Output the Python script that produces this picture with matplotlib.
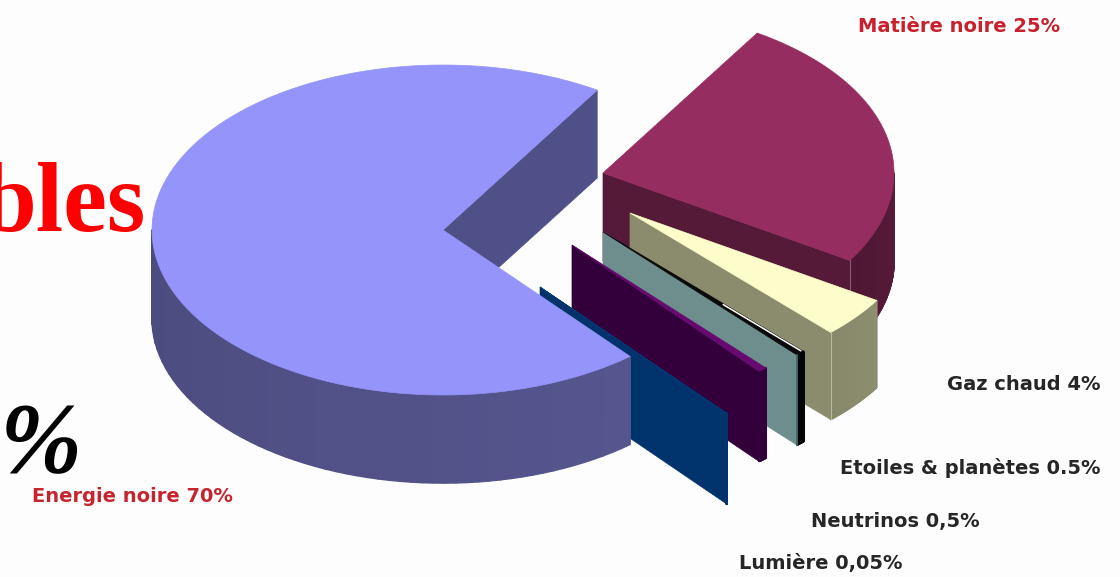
import numpy as np
import matplotlib
matplotlib.use("Agg")
import matplotlib.pyplot as plt
from matplotlib.collections import PolyCollection
from matplotlib.colors import to_rgb

# ---- data
labels = ["Energie noire 70%", "Matière noire 25%", "Gaz chaud 4%",
          "Etoiles & planètes 0.5%", "Neutrinos 0,5%", "Lumière 0,05%"]
values = [70, 25, 4, 0.5, 0.5, 0.05]

# ---- styles and layout (pixels, y downward)
top_colors = ["#9494FA", "#962D60", "#FDFDCB", "#0A0A0A", "#660A70", "#003A78"]
face_colors = ["#4F5088", "#551A38", "#8B8B6E", "#6E8E8E", "#33003C", "#00336B"]
arc_colors = [("#4B4B7E", "#56568F"), ("#4E1733", "#581B3A"), ("#88886C", "#8D8D70"),
              ("#050505", "#050505"), ("#2E0036", "#33003C"), ("#00336B", "#00336B")]
apexes = [(443, 230), (603, 173), (630, 213), (603, 232), (572, 245), (540, 287)]
RX, RY = 291, 165
DEPTHS = [88, 88, 87, 90, 90, 90]
START = 58.0
label_pos = [(132, 497, "#C5252E"), (959, 26, "#C8202C"), (1024, 385, "#262626"),
             (970, 468, "#262626"), (895, 521, "#262626"), (821, 563, "#262626")]
BG = "#FDFDFD"


def point(apex, deg):
    a = np.radians(deg)
    return apex[0] + RX * np.cos(a), apex[1] - RY * np.sin(a)


def arc(apex, a0, a1, n=120):
    return [point(apex, d) for d in np.linspace(a0, a1, n)]


fig = plt.figure(figsize=(11.2, 5.77), dpi=100, facecolor=BG)
ax = fig.add_axes([0, 0, 1, 1])
ax.set_xlim(0, 1120)
ax.set_ylim(577, 0)
ax.axis("off")

sweeps = np.array(values) / 100 * 360
bounds = [(START, START + sweeps[0])]
prev = START
for s in sweeps[1:]:
    bounds.append((prev - s, prev))
    prev -= s

# Energy is painted last so that it covers the light slice
order = [1, 2, 3, 4, 5, 0]
for i in order:
    apex, depth = apexes[i], DEPTHS[i]
    lo, hi = bounds[i]
    z = 2 + order.index(i)

    # outer wall, only the part that faces the viewer
    if i == 0:
        w0, w1 = 180.0, hi
    else:
        w0, w1 = lo, min(hi, 0.0)
    if w1 > w0:
        steps = np.linspace(w0, w1, 60)
        quads, cols = [], []
        c0, c1 = map(np.array, map(to_rgb, arc_colors[i]))
        for k in range(len(steps) - 1):
            p, q = point(apex, steps[k]), point(apex, steps[k + 1])
            quads.append([p, q, (q[0], q[1] + depth), (p[0], p[1] + depth)])
            cols.append(c0 + (c1 - c0) * k / (len(steps) - 2))
        ax.add_collection(PolyCollection(quads, facecolors=cols, edgecolors=cols,
                                         linewidths=1.2, zorder=z))

    # visible cut face
    e = point(apex, lo)
    f = [apex, e, (e[0], e[1] + depth), (apex[0], apex[1] + depth)]
    ax.fill(*zip(*f), color=face_colors[i], lw=0.5, zorder=z)

    # top face
    t = [apex] + arc(apex, lo, hi)
    ax.fill(*zip(*t), color=top_colors[i], lw=0.5, zorder=z + 0.5)

    # bright edge highlights
    if i in (1, 2):
        ax.plot([e[0], e[0]], [e[1], e[1] + depth], color="#B9B9A0" if i == 2 else "#8A5A75",
                lw=0.8, zorder=z + 0.6)
    if i == 3:
        r = np.array(point(apex, hi))
        a = np.array(apex)
        s0, s1 = a + 0.60 * (r - a), a + 0.985 * (r - a)
        ax.plot([s0[0], s1[0]], [s0[1] + 1, s1[1] + 1], color="white", lw=1.1, zorder=z + 0.6)
        ax.plot([e[0], e[0]], [e[1], e[1] + depth], color="#3F6A6E", lw=1.2, zorder=z + 0.6)

# labels
for name, (x, y, col) in zip(labels, label_pos):
    ax.text(x, y, name, color=col, ha="center", va="center", fontsize=14,
            fontweight="bold", family="DejaVu Sans", zorder=20)

# fragments of the larger slide title
ax.text(146, 231, "bles", color="#FF0000", ha="right", va="baseline", fontsize=71,
        fontweight="bold", family="Liberation Serif", zorder=20)
ax.text(82, 471, "%", color="black", ha="right", va="baseline", fontsize=71,
        fontweight="bold", fontstyle="italic", family="Liberation Serif", zorder=20)

fig.savefig("out.png", dpi=100, facecolor=BG)
